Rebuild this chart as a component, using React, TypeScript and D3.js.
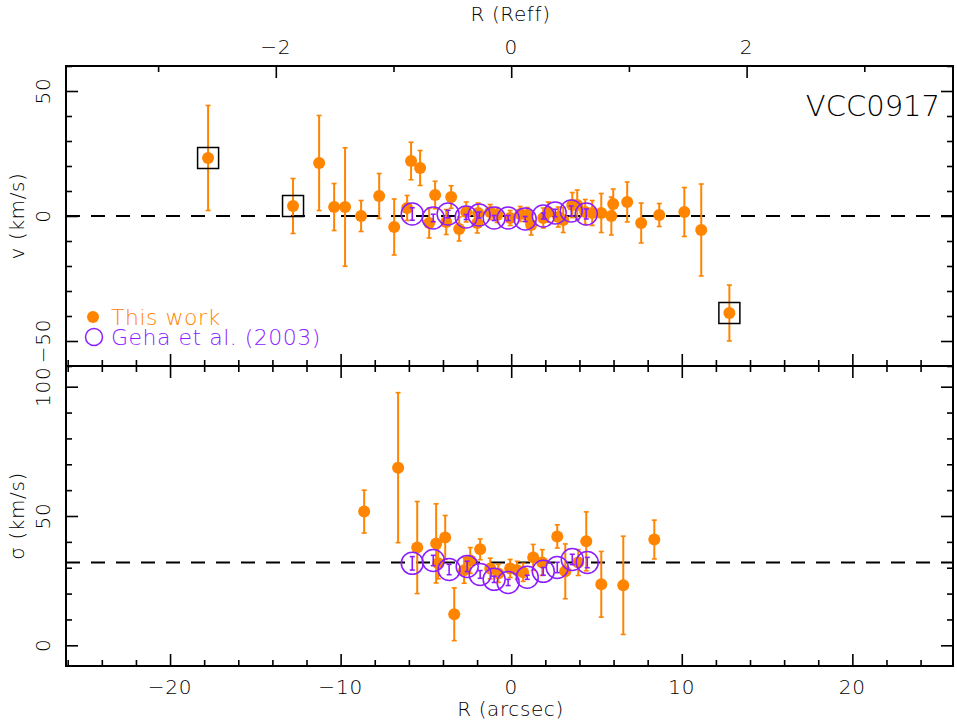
import React, { useEffect, useRef } from "react";
import * as d3 from "d3";

// R (arcsec), value, error
const vThisWork: [number, number, number][] = [
  [-17.77, 23.2, 21], [-12.79, 4.0, 11], [-11.26, 21.2, 19], [-10.38, 3.6, 9.4],
  [-9.74, 3.6, 23.7], [-8.8, 0, 6.2], [-7.74, 8.0, 9], [-6.86, -4.4, 11.2],
  [-6.1, 3.2, 5], [-5.87, 22, 7.5], [-5.34, 19.2, 7], [-4.46, 8.4, 5.5],
  [-3.52, 7.6, 4.5], [-4.81, -2.8, 6], [-3.81, -2.4, 5], [-3.05, -5.2, 4.8],
  [-2.64, 1.6, 4], [-1.94, 1.2, 4], [-1.99, -2.8, 4], [-1.23, 1.6, 3],
  [-0.82, 0.4, 3], [-0.06, -0.8, 3], [0.53, 0.8, 3], [0.94, 0.4, 3],
  [1.17, -3.6, 4], [1.88, -0.8, 4], [2.17, 1.6, 4], [2.76, -0.4, 4],
  [3.05, -1.6, 5], [3.58, 4.4, 5], [3.87, 4.4, 6], [4.34, 1.6, 5],
  [4.75, 1.2, 5], [5.28, 1.2, 7.8], [5.87, 0, 7.6], [5.98, 4.8, 6],
  [6.8, 5.6, 8], [7.62, -2.8, 8], [8.68, 0.4, 4.6], [10.15, 1.6, 9.8],
  [11.14, -5.6, 18.4], [12.79, -38.8, 11.2],
];
const vBoxed = [-17.77, -12.79, 12.79];

const vGeha: [number, number, number][] = [
  [-5.8, 0.8, 2.5], [-4.57, -0.8, 1.5], [-3.7, 0.8, 1.5], [-2.64, -0.4, 1],
  [-1.88, 0.4, 1.2], [-1.0, -0.8, 1], [-0.18, -0.8, 1], [0.82, -1.2, 1],
  [1.88, 0, 1.2], [2.58, 1.2, 1.5], [3.52, 2, 2], [4.4, 0.8, 2],
];

const sThisWork: [number, number, number][] = [
  [-8.62, 51.7, 8.3], [-6.63, 68.7, 29], [-5.51, 37.8, 17.8], [-4.4, 39.4, 15.3],
  [-3.87, 41.7, 8.5], [-3.34, 12.0, 10.2], [-4.28, 31.7, 6], [-2.76, 29.0, 5],
  [-2.4, 32.8, 5], [-1.82, 37.1, 4], [-1.23, 29.7, 4], [-0.76, 27.8, 3.5],
  [-0.06, 29.7, 3.5], [0.35, 29.0, 3.5], [0.7, 28.2, 3.5], [1.29, 34.0, 5],
  [1.82, 32.0, 5], [2.7, 42.1, 4.5], [3.17, 28.6, 10.6], [3.93, 32.0, 5],
  [4.4, 40.2, 11.4], [5.28, 23.6, 12.7], [6.57, 23.2, 19], [8.39, 40.9, 7.5],
];

const sGeha: [number, number, number][] = [
  [-5.8, 31.7, 2.6], [-4.57, 32.8, 2], [-3.64, 29.3, 2], [-2.58, 30.5, 2],
  [-1.82, 27.4, 1.5], [-1.0, 25.5, 1.2], [-0.18, 24.3, 1.2], [0.94, 26.3, 0.8],
  [1.88, 28.6, 1.5], [2.7, 30.1, 2], [3.58, 33.2, 2], [4.46, 32.0, 2],
];

const vLine = 0;
const sLine = 32;
const REFF = 6.9; // arcsec per Reff

const rTicks = [-20, -10, 0, 10, 20];
const reffTicks = [-2, 0, 2];
const vTicks = [-50, 0, 50];
const sTicks = [0, 50, 100];

const ORANGE = "#ff8400";
const PURPLE = "#8c1cff";
const FONT = "'DejaVu Sans', sans-serif";

const App = () => {
  const svgRef = useRef<SVGSVGElement>(null);

  useEffect(() => {
    const svg = d3.select(svgRef.current);
    svg.selectAll("*").remove();

    const L = 66, R = 953, T = 66, M = 366, B = 666;
    const x = d3.scaleLinear().domain([-26.1, 25.9]).range([L, R]);
    const xReff = d3.scaleLinear().domain([-26.1 / REFF, 25.9 / REFF]).range([L, R]);
    const yV = d3.scaleLinear().domain([-60, 60]).range([M, T]);
    const yS = d3.scaleLinear().domain([-8, 108]).range([B, M]);

    const range = (a, b, s) => d3.range(a, b + 1e-9, s);

    const ticks = (axis, transform, values, size) => {
      svg
        .append("g")
        .attr("transform", transform)
        .call(axis.tickValues(values).tickSize(size).tickFormat(() => ""))
        .call((g) => g.select(".domain").remove())
        .selectAll("line")
        .attr("stroke", "#000")
        .attr("stroke-width", 1.6);
    };

    // reference lines
    [[yV, vLine], [yS, sLine]].forEach(([y, v]: any) => {
      svg
        .append("line")
        .attr("x1", L).attr("x2", R)
        .attr("y1", y(v)).attr("y2", y(v))
        .attr("stroke", "#000")
        .attr("stroke-width", 2)
        .attr("stroke-dasharray", "14,11");
    });

    const drawSeries = (data, y, color, dot) => {
      const g = svg.append("g");
      const cap = 2.5;
      data.forEach(([r, v, e]) => {
        const cx = x(r);
        g.append("line")
          .attr("x1", cx).attr("x2", cx)
          .attr("y1", y(v - e)).attr("y2", y(v + e))
          .attr("stroke", color).attr("stroke-width", dot ? 2 : 1.6);
        [v - e, v + e].forEach((w) =>
          g.append("line")
            .attr("x1", cx - cap).attr("x2", cx + cap)
            .attr("y1", y(w)).attr("y2", y(w))
            .attr("stroke", color).attr("stroke-width", 1.6)
        );
      });
      g.selectAll("circle")
        .data(data)
        .join("circle")
        .attr("cx", (d) => x(d[0]))
        .attr("cy", (d) => y(d[1]))
        .attr("r", dot ? 6 : 11)
        .attr("fill", dot ? color : "none")
        .attr("stroke", dot ? "none" : color)
        .attr("stroke-width", 1.5);
    };

    drawSeries(vThisWork, yV, ORANGE, true);
    drawSeries(vGeha, yV, PURPLE, false);
    drawSeries(sThisWork, yS, ORANGE, true);
    drawSeries(sGeha, yS, PURPLE, false);

    // boxed points
    svg
      .append("g")
      .selectAll("rect")
      .data(vThisWork.filter((d) => vBoxed.includes(d[0])))
      .join("rect")
      .attr("x", (d) => x(d[0]) - 10.5)
      .attr("y", (d) => yV(d[1]) - 10.5)
      .attr("width", 21)
      .attr("height", 21)
      .attr("fill", "none")
      .attr("stroke", "#000")
      .attr("stroke-width", 1.5);

    // frames
    [[T, M], [M, B]].forEach(([a, b]) => {
      svg
        .append("rect")
        .attr("x", L).attr("y", a)
        .attr("width", R - L).attr("height", b - a)
        .attr("fill", "none")
        .attr("stroke", "#000")
        .attr("stroke-width", 2);
    });

    // x ticks
    const minorR = range(-26, 24, 2).filter((v) => v % 10 !== 0);
    ticks(d3.axisBottom(x), `translate(0,${B})`, rTicks, -12);
    ticks(d3.axisBottom(x), `translate(0,${B})`, minorR, -6);
    ticks(d3.axisTop(x), `translate(0,${M})`, rTicks, -12);
    ticks(d3.axisTop(x), `translate(0,${M})`, minorR, -6);
    ticks(d3.axisBottom(x), `translate(0,${M})`, rTicks, -12);
    ticks(d3.axisBottom(x), `translate(0,${M})`, minorR, -6);
    ticks(d3.axisTop(xReff), `translate(0,${T})`, reffTicks, -12);
    ticks(d3.axisTop(xReff), `translate(0,${T})`, [-3, -1, 1, 3], -6);

    // y ticks
    const minorV = range(-60, 60, 10).filter((v) => v % 50 !== 0);
    const minorS = range(0, 100, 10).filter((v) => v % 50 !== 0);
    ticks(d3.axisLeft(yV), `translate(${L},0)`, vTicks, -12);
    ticks(d3.axisLeft(yV), `translate(${L},0)`, minorV, -6);
    ticks(d3.axisRight(yV), `translate(${R},0)`, vTicks, -12);
    ticks(d3.axisRight(yV), `translate(${R},0)`, minorV, -6);
    ticks(d3.axisLeft(yS), `translate(${L},0)`, sTicks, -12);
    ticks(d3.axisLeft(yS), `translate(${L},0)`, minorS, -6);
    ticks(d3.axisRight(yS), `translate(${R},0)`, sTicks, -12);
    ticks(d3.axisRight(yS), `translate(${R},0)`, minorS, -6);

    const fmt = (v) => (v < 0 ? "\u2212" + Math.abs(v) : String(v));
    const text = (s, tx, ty, opts: any = {}) =>
      svg
        .append("text")
        .attr("transform", `translate(${tx},${ty})${opts.rotate ? " rotate(-90)" : ""}`)
        .attr("text-anchor", opts.anchor || "middle")
        .attr("font-family", FONT)
        .attr("font-weight", 200)
        .attr("font-size", opts.size || 20)
        .attr("letter-spacing", opts.spacing || 0)
        .attr("fill", opts.color || "#000")
        .text(s);

    rTicks.forEach((v) => text(fmt(v), x(v), 694, { spacing: 0.8 }));
    reffTicks.forEach((v) => text(fmt(v), xReff(v), 54, { spacing: 0.8 }));
    vTicks.forEach((v) => text(fmt(v), 50, yV(v), { rotate: true, spacing: 0.8 }));
    sTicks.forEach((v) => text(fmt(v), 50, yS(v), { rotate: true, spacing: 0.8 }));

    text("R (arcsec)", (L + R) / 2 + 1, 716, { spacing: 0.6 });
    text("R (Reff)", (L + R) / 2 + 1, 21, { spacing: 0.6 });
    text("v (km/s)", 24, yV(0), { rotate: true, spacing: 0.6 });
    text("\u03c3 (km/s)", 24, yS(50), { rotate: true, spacing: 0.6 });
    text("VCC0917", 940, 116, { anchor: "end", size: 29 });

    // legend
    svg.append("circle").attr("cx", 93).attr("cy", 317).attr("r", 6).attr("fill", ORANGE);
    text("This work", 111, 325, { anchor: "start", size: 22, color: ORANGE, spacing: 0.5 });
    svg
      .append("circle")
      .attr("cx", 94).attr("cy", 337).attr("r", 8.5)
      .attr("fill", "none").attr("stroke", PURPLE).attr("stroke-width", 1.5);
    text("Geha et al. (2003)", 111, 345, { anchor: "start", size: 22, color: PURPLE, spacing: 0.5 });
  }, []);

  return (
    <svg
      ref={svgRef}
      width={957}
      height={720}
      style={{ position: "absolute", left: 0, top: 0, background: "#fff" }}
    ></svg>
  );
};

export default App;
